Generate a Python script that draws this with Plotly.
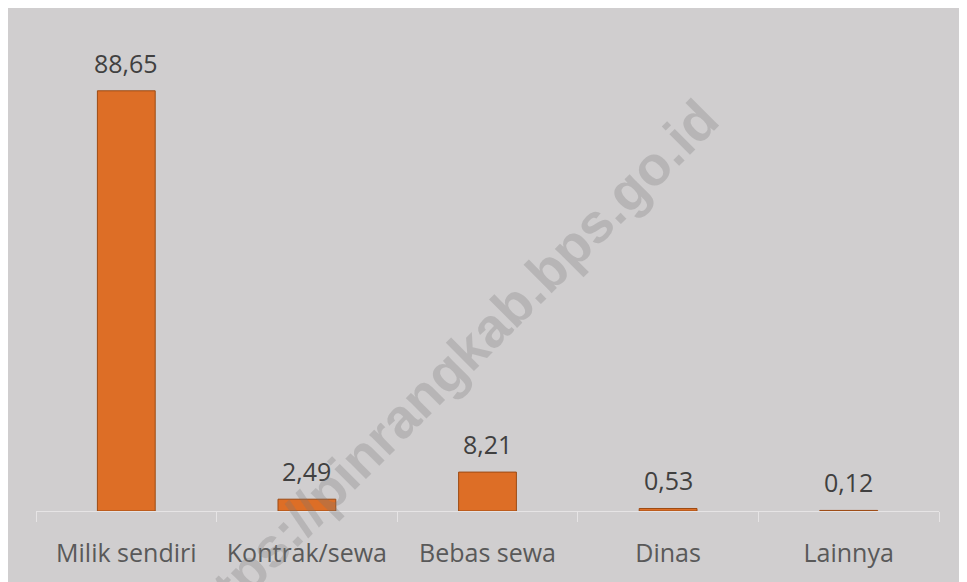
import plotly.graph_objects as go

categories = ["Milik sendiri", "Kontrak/sewa", "Bebas sewa", "Dinas", "Lainnya"]
values = [88.65, 2.49, 8.21, 0.53, 0.12]
value_labels = ["88,65", "2,49", "8,21", "0,53", "0,12"]
watermark = "https://pinrangkab.bps.go.id"

bg = "#d0cecf"

fig = go.Figure()
fig.add_trace(go.Bar(
    x=categories,
    y=values,
    marker=dict(color="#dd6e26", line=dict(color="#9c4a14", width=1)),
    hoverinfo="x+y",
))

# value labels above the bars
for cat, val, lab in zip(categories, values, value_labels):
    fig.add_annotation(
        x=cat, y=val, text=lab, showarrow=False,
        xanchor="center", yanchor="bottom", yshift=9,
        font=dict(family="Open Sans", size=25, color="#404040"),
    )

# diagonal watermark
fig.add_annotation(
    x=0.455, y=0.296, xref="paper", yref="paper",
    text=watermark, showarrow=False, textangle=-45,
    xanchor="center", yanchor="middle",
    font=dict(family="Liberation Sans", size=55, color="rgba(120,120,120,0.28)", weight="bold"),
)

fig.update_layout(
    width=959,
    height=574,
    margin=dict(l=28, r=28, t=29, b=71),
    paper_bgcolor=bg,
    plot_bgcolor=bg,
    bargap=0.68,
    showlegend=False,
    font=dict(family="Open Sans", color="#595959"),
)
fig.update_xaxes(
    showline=True, linecolor="#e6e4e5", linewidth=1,
    ticks="outside", tickson="boundaries", ticklen=10, tickcolor="#e6e4e5",
    tickfont=dict(size=25, color="#595959"),
    ticklabelstandoff=20,
    showgrid=False,
)
fig.update_yaxes(range=[0, 100], visible=False, showgrid=False)

fig.write_html("out.html")
